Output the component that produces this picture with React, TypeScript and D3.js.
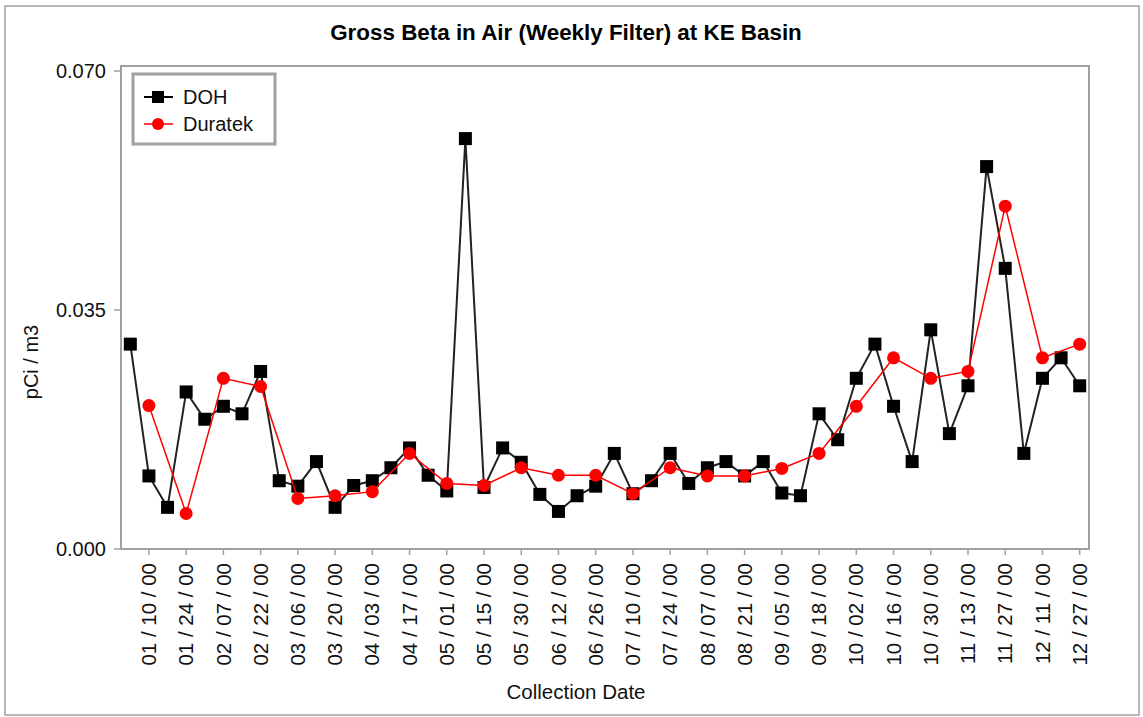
import { useMemo } from 'react'
import * as d3 from 'd3'

// weekly collection dates (every other one is labeled on the axis)
const dates = [
  '01/03/00', '01/10/00', '01/17/00', '01/24/00', '01/31/00', '02/07/00', '02/14/00', '02/22/00',
  '02/28/00', '03/06/00', '03/13/00', '03/20/00', '03/27/00', '04/03/00', '04/10/00', '04/17/00',
  '04/24/00', '05/01/00', '05/08/00', '05/15/00', '05/22/00', '05/30/00', '06/05/00', '06/12/00',
  '06/19/00', '06/26/00', '07/03/00', '07/10/00', '07/17/00', '07/24/00', '07/31/00', '08/07/00',
  '08/14/00', '08/21/00', '08/28/00', '09/05/00', '09/11/00', '09/18/00', '09/25/00', '10/02/00',
  '10/09/00', '10/16/00', '10/23/00', '10/30/00', '11/06/00', '11/13/00', '11/20/00', '11/27/00',
  '12/04/00', '12/11/00', '12/18/00', '12/27/00',
]

const tickDates = dates.filter((_, i) => i % 2 === 1)

const dohValues = [
  0.0300, 0.0107, 0.0061, 0.0230, 0.0190, 0.0209, 0.0198, 0.0260,
  0.0100, 0.0092, 0.0128, 0.0061, 0.0093, 0.0100, 0.0119, 0.0148,
  0.0108, 0.0085, 0.0601, 0.0090, 0.0148, 0.0127, 0.0080, 0.0055,
  0.0078, 0.0092, 0.0140, 0.0081, 0.0100, 0.0140, 0.0096, 0.0119,
  0.0128, 0.0107, 0.0128, 0.0082, 0.0078, 0.0198, 0.0160, 0.0250,
  0.0300, 0.0209, 0.0128, 0.0321, 0.0169, 0.0239, 0.0560, 0.0411,
  0.0140, 0.0250, 0.0280, 0.0239,
]

// Duratek only sampled on the labeled dates
const duratekValues = [
  0.0210, 0.0052, 0.0250, 0.0238, 0.0074, 0.0078, 0.0084, 0.0140,
  0.0096, 0.0093, 0.0119, 0.0108, 0.0108, 0.0081, 0.0119, 0.0107,
  0.0107, 0.0118, 0.0140, 0.0209, 0.0280, 0.0250, 0.0260, 0.0502,
  0.0280, 0.0300,
]

const yTicks = [0, 0.035, 0.07]

const FONT = '"Liberation Sans", Arial, sans-serif'

export default function App() {
  const width = 1143
  const height = 717
  const plot = { left: 121, right: 1089, top: 66, bottom: 549 }

  const x = useMemo(
    () => d3.scaleBand<string>().domain(dates).range([plot.left, plot.right]).padding(0),
    []
  )
  const cx = (d: string) => (x(d) ?? 0) + x.bandwidth() / 2
  const y = d3.scaleLinear().domain([0, 0.07]).range([549, 71])

  const doh = dates.map((d, i) => ({ date: d, value: dohValues[i] }))
  const duratek = tickDates.map((d, i) => ({ date: d, value: duratekValues[i] }))

  const line = d3
    .line<{ date: string; value: number }>()
    .x(d => cx(d.date))
    .y(d => y(d.value))

  const fmtLabel = (d: string) => d.split('/').join(' / ')

  return (
    <div style={{ position: 'fixed', left: 0, top: 0, background: '#fff' }}>
      <svg width={width} height={height} style={{ display: 'block', fontFamily: FONT }}>
        <rect x={0} y={0} width={width} height={height} fill="#fff" />
        {/* outer border */}
        <rect x={5} y={6} width={1134} height={709} fill="none" stroke="#a0a0a0" strokeWidth={1.5} />

        {/* title */}
        <text x={566} y={40} textAnchor="middle" fontSize={22.4} fontWeight="bold" fill="#000">
          Gross Beta in Air (Weekly Filter) at KE Basin
        </text>

        {/* plot frame */}
        <rect
          x={plot.left}
          y={plot.top}
          width={plot.right - plot.left}
          height={plot.bottom - plot.top}
          fill="#fff"
          stroke="#a0a0a0"
          strokeWidth={2}
        />

        {/* y axis ticks */}
        {yTicks.map(t => (
          <g key={t}>
            <line x1={plot.left - 7} x2={plot.left} y1={y(t)} y2={y(t)} stroke="#a0a0a0" strokeWidth={1.5} />
            <text x={106} y={y(t)} dy="0.35em" textAnchor="end" fontSize={20} fill="#111">
              {d3.format('.3f')(t)}
            </text>
          </g>
        ))}

        {/* x axis ticks + labels */}
        {tickDates.map(d => (
          <g key={d}>
            <line x1={cx(d)} x2={cx(d)} y1={plot.bottom} y2={plot.bottom + 6} stroke="#a0a0a0" strokeWidth={1.5} />
            <text
              transform={`translate(${cx(d)},${563}) rotate(-90)`}
              dy="0.35em"
              textAnchor="end"
              fontSize={20.5}
              fill="#111"
            >
              {fmtLabel(d)}
            </text>
          </g>
        ))}

        {/* axis titles */}
        <text x={576} y={699} textAnchor="middle" fontSize={20.5} fill="#111">
          Collection Date
        </text>
        <text transform="translate(38,362) rotate(-90)" textAnchor="middle" fontSize={20} fill="#111">
          pCi / m3
        </text>

        {/* DOH series */}
        <path d={line(doh) ?? ''} fill="none" stroke="#222" strokeWidth={2} />
        {doh.map(d => (
          <rect key={d.date} x={cx(d.date) - 6.5} y={y(d.value) - 6.5} width={13} height={13} fill="#000" />
        ))}

        {/* Duratek series */}
        <path d={line(duratek) ?? ''} fill="none" stroke="#ff0000" strokeWidth={1.5} />
        {duratek.map(d => (
          <circle key={d.date} cx={cx(d.date)} cy={y(d.value)} r={6.5} fill="#ff0000" />
        ))}

        {/* legend */}
        <rect x={133} y={74} width={142} height={70} fill="#fff" stroke="#a0a0a0" strokeWidth={3} />
        <line x1={144} x2={173} y1={97} y2={97} stroke="#000" strokeWidth={2} />
        <rect x={152} y={91} width={12} height={12} fill="#000" />
        <text x={183} y={97} dy="0.35em" fontSize={20} fill="#111">DOH</text>
        <line x1={144} x2={173} y1={124} y2={124} stroke="#ff0000" strokeWidth={1.5} />
        <circle cx={158} cy={124} r={6} fill="#ff0000" />
        <text x={183} y={124} dy="0.35em" fontSize={20} fill="#111">Duratek</text>
      </svg>
    </div>
  )
}
